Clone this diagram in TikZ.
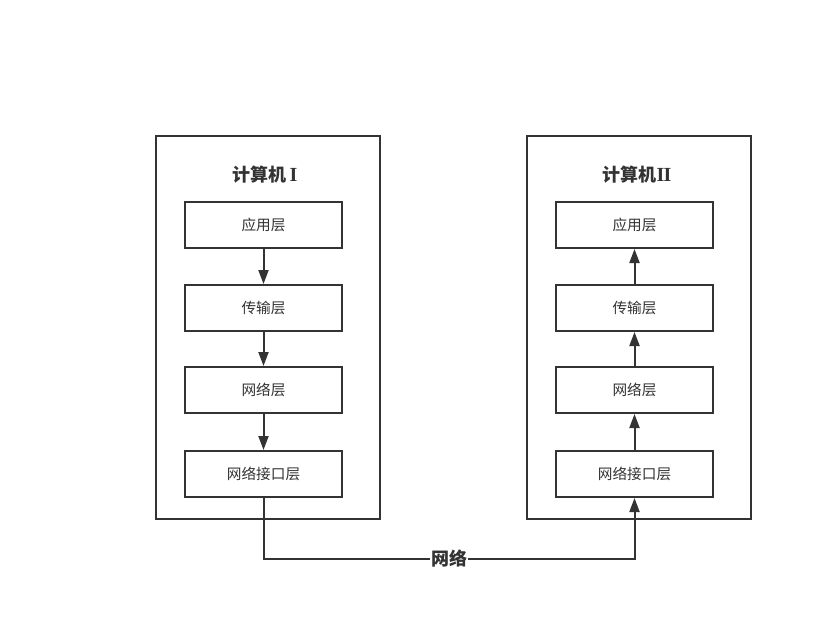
\documentclass[tikz,border=0pt]{standalone}
\usepackage{fontspec}
\setmainfont{Noto Sans CJK SC}
\newfontfamily\numfont{Liberation Serif}
\usetikzlibrary{arrows.meta}

\begin{document}
\begin{tikzpicture}[
    x = 0.75pt,
    y = -0.75pt,
    line width = 1.5pt,
    color = black!80,
    layer/.style = {draw, minimum width = 117.75pt, minimum height = 34.5pt,
      inner sep = 0pt, font = \fontsize{11}{13}\selectfont},
    host/.style = {draw, minimum width = 168pt, minimum height = 287.25pt,
      inner sep = 0pt},
    title/.style = {font = \fontsize{13.5}{16}\bfseries\selectfont},
    flow/.style = {-{Triangle[length = 10.5pt, width = 7.5pt]}},
    ]
    \useasboundingbox (0, 0) rectangle (813, 620);
    % hosts
    \node[host] (hostA) at (268, 327.5) {};
    \node[host] (hostB) at (639, 327.5) {};
    \node[title] (titleA) at (265, 175) {计算机\,{\numfont\fontsize{15}{16}\selectfont I}};
    \node[title] (titleB) at (637, 175) {计算机{\numfont\fontsize{15}{16}\selectfont I\kern-0.6pt I}};
    % left stack
    \node[layer] (appA) at (263.5, 225) {应用层};
    \node[layer] (tranA) at (263.5, 308) {传输层};
    \node[layer] (netA) at (263.5, 390) {网络层};
    \node[layer] (linkA) at (263.5, 474) {网络接口层};
    % right stack
    \node[layer] (appB) at (634.5, 225) {应用层};
    \node[layer] (tranB) at (634.5, 308) {传输层};
    \node[layer] (netB) at (634.5, 390) {网络层};
    \node[layer] (linkB) at (634.5, 474) {网络接口层};
    % arrows
    \draw[flow] (appA) -- (tranA);
    \draw[flow] (tranA) -- (netA);
    \draw[flow] (netA) -- (linkA);
    \draw[flow] (tranB) -- (appB);
    \draw[flow] (netB) -- (tranB);
    \draw[flow] (linkB) -- (netB);
    % network
    \draw[flow] (linkA.south) -- ++(0, 61) -| (linkB.south)
    node[pos = 0.25, fill = white, inner sep = 1pt, title] (net) {网络};
  \end{tikzpicture}
\end{document}
